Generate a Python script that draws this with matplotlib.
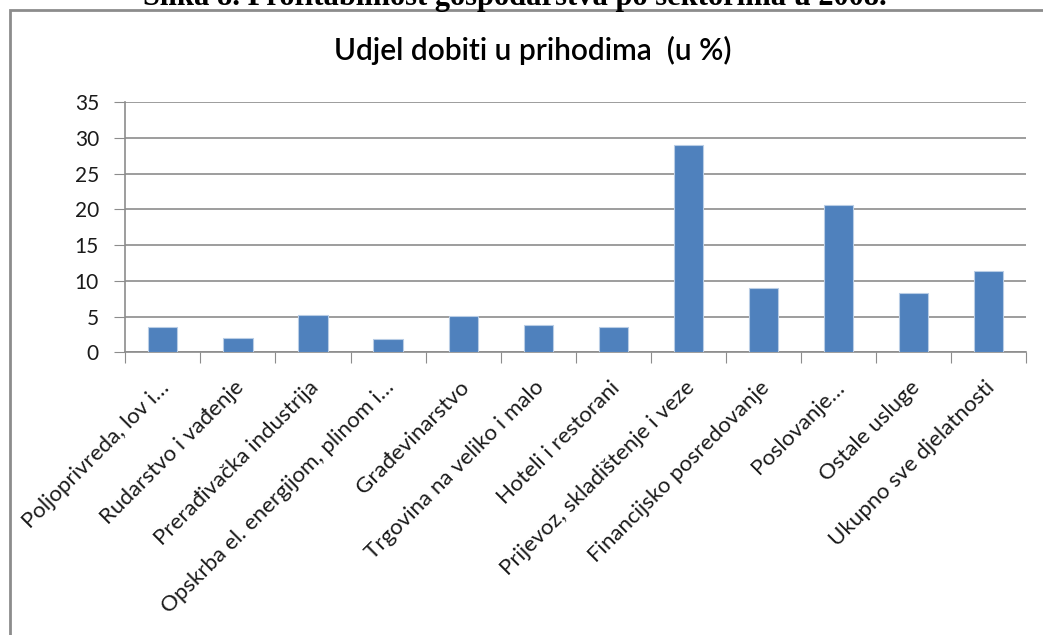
import matplotlib.pyplot as plt
import matplotlib.patches as mpatches
import matplotlib.transforms as mtransforms
import numpy as np

sektori = ["Poljoprivreda, lov i…", "Rudarstvo i vađenje", "Prerađivačka industrija",
           "Opskrba el. energijom, plinom i…", "Građevinarstvo", "Trgovina na veliko i malo",
           "Hoteli i restorani", "Prijevoz, skladištenje i veze", "Financijsko posredovanje",
           "Poslovanje…", "Ostale usluge", "Ukupno sve djelatnosti"]
udjel = [3.5, 2.05, 5.25, 1.85, 5.1, 3.85, 3.5, 29.0, 9.05, 20.6, 8.35, 11.35]
y_ticks = [0, 5, 10, 15, 20, 25, 30, 35]

plt.rcParams['font.family'] = ['Lato', 'DejaVu Sans']

fig = plt.figure(figsize=(10.43, 6.35), dpi=100)
W, H = 1043, 635

# okvir grafikona (izlazi izvan slike desno i dolje)
okvir = mpatches.Rectangle((9.5 / W, -0.1), 1.2, 1 - 9.5 / H + 0.1, transform=fig.transFigure,
                           fill=False, edgecolor="#8c8c8c", linewidth=2)
fig.patches.append(okvir)

# naslov slike, odrezan na vrhu
fig.text(515 / W, 1 - 5.5 / H, "Slika 8. Profitabilnost gospodarstva po sektorima u 2008.",
         ha="center", va="baseline", fontsize=22, fontweight="bold",
         family="Liberation Serif")

ax = fig.add_axes([125.3 / W, 1 - 352.3 / H, 901 / W, 250 / H])
x = np.arange(len(sektori))
ax.bar(x, udjel, width=0.39, color="#4F81BD", edgecolor="#B9CDE5", linewidth=0.8, zorder=3)

ax.set_xlim(-0.5, len(sektori) - 0.5)
ax.set_ylim(0, 35)
ax.set_yticks(y_ticks)
ax.yaxis.grid(True, color="#8c8c8c", linewidth=1.2, zorder=0)
ax.set_axisbelow(True)

ax.set_xticks(np.arange(len(sektori) + 1) - 0.5)
ax.set_xticklabels([])
ax.tick_params(axis="x", which="major", length=8, color="#8c8c8c", direction="out")
ax.tick_params(axis="y", length=8, color="#8c8c8c", labelsize=15, labelcolor="#1a1a1a", pad=11)

# oznake kategorija ispod osi, zakrenute za 45 stupnjeva
pomak = mtransforms.ScaledTranslation(3 / 100, -32 / 100, fig.dpi_scale_trans)
for xi, naziv in zip(x, sektori):
    ax.text(xi, 0, naziv, transform=ax.get_xaxis_transform() + pomak,
            rotation=45, rotation_mode="anchor", ha="right", va="center",
            fontsize=16, color="#1a1a1a")

for s in ["top", "right"]:
    ax.spines[s].set_visible(False)
for s in ["left", "bottom"]:
    ax.spines[s].set_color("#8c8c8c")
    ax.spines[s].set_linewidth(1.2)

fig.text(533 / W, 1 - 50 / H, "Udjel dobiti u prihodima  (u %)", ha="center", va="center",
         fontsize=21.5, fontweight="semibold", color="#000000")

fig.savefig("out.png", dpi=100)
